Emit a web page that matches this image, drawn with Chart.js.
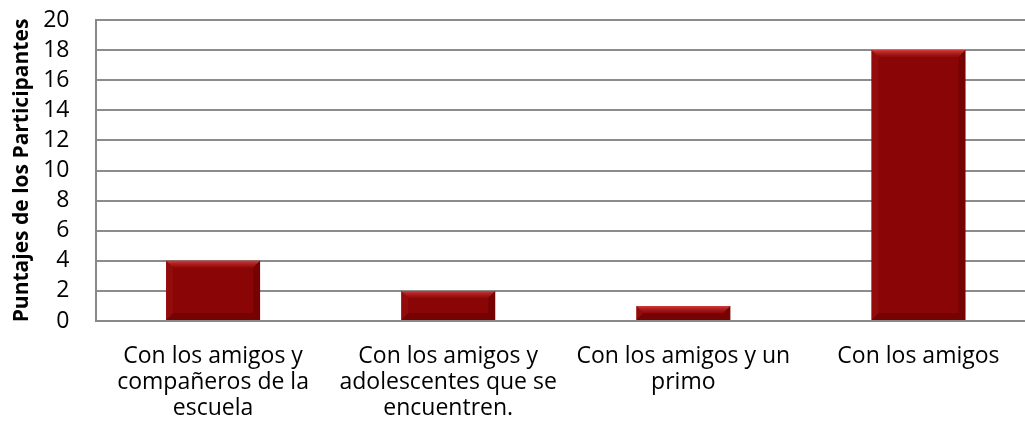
<!DOCTYPE html>
<html>
<head>
<meta charset="utf-8">
<script src="https://cdn.jsdelivr.net/npm/chart.js@4/dist/chart.umd.min.js"></script>
<style>
  html, body { margin: 0; padding: 0; background: #fff; overflow: hidden; }
  #wrap { width: 1060px; height: 431px; }
</style>
</head>
<body>
<div id="wrap"><canvas id="chart"></canvas></div>
<script>
// chart data
var categories = [
    ['Con los amigos y', 'compañeros de la', 'escuela'],
    ['Con los amigos y', 'adolescentes que se', 'encuentren.'],
    ['Con los amigos y un', 'primo'],
    ['Con los amigos']
];
var scores = [4, 2, 1, 18];
var yTitle = 'Puntajes de los Participantes';

// soft bevel on each bar, drawn from the bar elements
var bevel = {
    id: 'bevel',
    afterDatasetsDraw: function(chart) {
        var c = chart.ctx;
        chart.getDatasetMeta(0).data.forEach(function(bar) {
            var l = bar.x - bar.width / 2, r = bar.x + bar.width / 2;
            var t = bar.y, b = bar.base, e = Math.min(7, (b - t) / 2);
            c.save();
            var g = c.createLinearGradient(0, t, 0, t + e);
            g.addColorStop(0, 'rgba(230,80,80,0.75)');
            g.addColorStop(1, 'rgba(180,30,30,0.2)');
            c.fillStyle = g;
            c.beginPath(); c.moveTo(l, t); c.lineTo(r, t); c.lineTo(r - e, t + e); c.lineTo(l + e, t + e); c.closePath(); c.fill();
            c.fillStyle = 'rgba(170,30,30,0.3)';
            c.beginPath(); c.moveTo(l, t); c.lineTo(l + e, t + e); c.lineTo(l + e, b - e); c.lineTo(l, b); c.closePath(); c.fill();
            c.fillStyle = 'rgba(60,0,0,0.25)';
            c.beginPath(); c.moveTo(r, t); c.lineTo(r - e, t + e); c.lineTo(r - e, b - e); c.lineTo(r, b); c.closePath(); c.fill();
            c.beginPath(); c.moveTo(l, b); c.lineTo(l + e, b - e); c.lineTo(r - e, b - e); c.lineTo(r, b); c.closePath(); c.fill();
            c.restore();
        });
    }
};

var ctx = document.getElementById('chart').getContext('2d');
var myChart = new Chart(ctx, {
    type: 'bar',
    data: {
        labels: categories,
        datasets: [{
            data: scores,
            backgroundColor: '#8a0505',
            borderWidth: 0,
            barPercentage: 0.4,
            categoryPercentage: 1.0
        }]
    },
    options: {
        responsive: true,
        maintainAspectRatio: false,
        animation: false,
        layout: { padding: { top: 20, right: 24, left: 9, bottom: 0 } },
        scales: {
            x: {
                grid: { display: false, drawTicks: false },
                border: { color: '#888', width: 2 },
                ticks: {
                    color: '#000',
                    padding: 22,
                    maxRotation: 0,
                    autoSkip: false,
                    font: { family: 'Open Sans', size: 23, lineHeight: 1.13 }
                },
                afterFit: function(scale) {
                    scale.height = 110;
                }
            },
            y: {
                min: 0,
                max: 20,
                ticks: {
                    stepSize: 2,
                    autoSkip: false,
                    color: '#000',
                    padding: 3,
                    font: { family: 'Open Sans', size: 23 }
                },
                grid: { color: '#8c8c8c', lineWidth: 2, drawTicks: true, tickLength: 23, tickColor: 'rgba(0,0,0,0)' },
                border: { color: '#888', width: 2 },
                title: {
                    display: true,
                    text: yTitle,
                    color: '#000',
                    padding: { top: 0, bottom: 6 },
                    font: { family: 'Open Sans', size: 21, weight: 'bold' }
                }
            }
        },
        plugins: {
            legend: { display: false },
            tooltip: { enabled: false }
        }
    },
    plugins: [bevel]
});
</script>
</body>
</html>
